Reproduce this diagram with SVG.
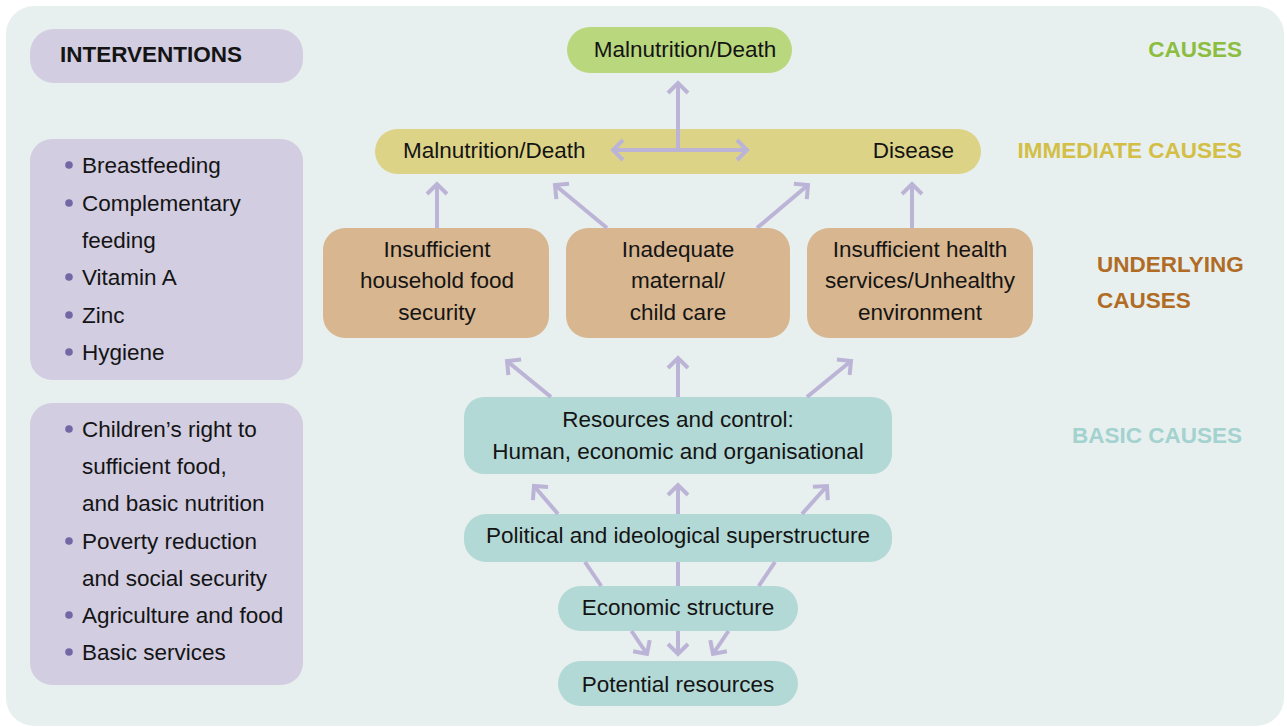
<svg xmlns="http://www.w3.org/2000/svg" width="1287" height="727" viewBox="0 0 1287 727">
<style>
.t{font-family:"Liberation Sans",Arial,sans-serif;font-size:22.5px;fill:#141414}
.c{text-anchor:middle}
.b{font-family:"Liberation Sans",Arial,sans-serif;font-size:22.5px;font-weight:bold}
.lav{fill:#d2cde1}
.grn{fill:#b9d77d}
.yel{fill:#ddd386}
.tan{fill:#d8b68f}
.tea{fill:#b3d9d6}
.dot{fill:#7566a6}
.ar{fill:none;stroke:#bcb4d6;stroke-width:4;marker-end:url(#ah)}
.ln{fill:none;stroke:#bcb4d6;stroke-width:4}
</style>
<defs>
<marker id="ah" markerUnits="userSpaceOnUse" viewBox="-14 -14 18 28" markerWidth="18" markerHeight="28" refX="0" refY="0" orient="auto">
<path d="M-10,-10 L0,0 L-10,10" fill="none" stroke="#bcb4d6" stroke-width="4"/>
</marker>
</defs>
<rect x="6" y="6" width="1278" height="720" rx="28" fill="#e7f0ef"/>

<g id="interventions-title">
<rect class="lav" x="30" y="29" width="273" height="54" rx="24"/>
<text class="b" x="60" y="62" fill="#141414">INTERVENTIONS</text>
</g>

<g id="interventions-immediate">
<rect class="lav" x="30" y="139" width="273" height="241" rx="22"/>
<circle class="dot" cx="69" cy="165" r="3.8"/><text class="t" x="82" y="173">Breastfeeding</text>
<circle class="dot" cx="69" cy="203" r="3.8"/><text class="t" x="82" y="211">Complementary</text>
<text class="t" x="82" y="248">feeding</text>
<circle class="dot" cx="69" cy="277" r="3.8"/><text class="t" x="82" y="285">Vitamin A</text>
<circle class="dot" cx="69" cy="315" r="3.8"/><text class="t" x="82" y="323">Zinc</text>
<circle class="dot" cx="69" cy="352" r="3.8"/><text class="t" x="82" y="360">Hygiene</text>
</g>

<g id="interventions-basic">
<rect class="lav" x="30" y="403" width="273" height="282" rx="22"/>
<circle class="dot" cx="69" cy="429" r="3.8"/><text class="t" x="82" y="437">Children’s right to</text>
<text class="t" x="82" y="474">sufficient food,</text>
<text class="t" x="82" y="511">and basic nutrition</text>
<circle class="dot" cx="69" cy="541" r="3.8"/><text class="t" x="82" y="549">Poverty reduction</text>
<text class="t" x="82" y="586">and social security</text>
<circle class="dot" cx="69" cy="615" r="3.8"/><text class="t" x="82" y="623">Agriculture and food</text>
<circle class="dot" cx="69" cy="652" r="3.8"/><text class="t" x="82" y="660">Basic services</text>
</g>

<g id="outcome">
<rect class="grn" x="567" y="27" width="225" height="46" rx="23"/>
<text class="t c" x="685" y="57">Malnutrition/Death</text>
</g>

<g id="immediate">
<rect class="yel" x="375" y="129" width="606" height="45" rx="22.5"/>
<text class="t" x="403" y="158">Malnutrition/Death</text>
<text class="t" x="954" y="158" text-anchor="end">Disease</text>
</g>

<g id="food-security">
<rect class="tan" x="323" y="228" width="226" height="110" rx="22"/>
<text class="t c" x="437" y="257">Insufficient</text>
<text class="t c" x="437" y="288">household food</text>
<text class="t c" x="437" y="320">security</text>
</g>

<g id="care">
<rect class="tan" x="566" y="228" width="224" height="110" rx="22"/>
<text class="t c" x="678" y="257">Inadequate</text>
<text class="t c" x="678" y="288">maternal/</text>
<text class="t c" x="678" y="320">child care</text>
</g>

<g id="health">
<rect class="tan" x="807" y="228" width="226" height="110" rx="22"/>
<text class="t c" x="920" y="257">Insufficient health</text>
<text class="t c" x="920" y="288">services/Unhealthy</text>
<text class="t c" x="920" y="320">environment</text>
</g>

<g id="resources">
<rect class="tea" x="464" y="397" width="428" height="77" rx="20"/>
<text class="t c" x="678" y="427">Resources and control:</text>
<text class="t c" x="678" y="459">Human, economic and organisational</text>
</g>

<g id="political">
<rect class="tea" x="464" y="514" width="428" height="48" rx="22"/>
<text class="t c" x="678" y="543">Political and ideological superstructure</text>
</g>

<g id="economic">
<rect class="tea" x="558" y="586" width="240" height="45" rx="22.5"/>
<text class="t c" x="678" y="615">Economic structure</text>
</g>

<g id="potential">
<rect class="tea" x="558" y="661" width="240" height="45" rx="22.5"/>
<text class="t c" x="678" y="692">Potential resources</text>
</g>

<g id="level-labels">
<text class="b" x="1242" y="57" text-anchor="end" fill="#8cbd3f">CAUSES</text>
<text class="b" x="1242" y="158" text-anchor="end" fill="#d3bf45">IMMEDIATE CAUSES</text>
<text class="b" x="1097" y="272" fill="#b06c25">UNDERLYING</text>
<text class="b" x="1097" y="308" fill="#b06c25">CAUSES</text>
<text class="b" x="1242" y="443" text-anchor="end" fill="#a3d2cf">BASIC CAUSES</text>
</g>

<g id="connectors">
<line class="ar" x1="678" y1="152" x2="678" y2="83"/>
<line class="ar" x1="680" y1="150" x2="613" y2="150"/>
<line class="ar" x1="676" y1="150" x2="747" y2="150"/>
<line class="ar" x1="437" y1="228" x2="437" y2="184"/>
<line class="ar" x1="607" y1="228" x2="555" y2="185"/>
<line class="ar" x1="757" y1="228" x2="808" y2="185"/>
<line class="ar" x1="912" y1="228" x2="912" y2="184"/>
<line class="ar" x1="551" y1="397" x2="507" y2="361"/>
<line class="ar" x1="678" y1="397" x2="678" y2="358"/>
<line class="ar" x1="807" y1="397" x2="851" y2="361"/>
<line class="ar" x1="558" y1="514" x2="534" y2="486"/>
<line class="ar" x1="678" y1="514" x2="678" y2="485"/>
<line class="ar" x1="802" y1="514" x2="827" y2="486"/>
<line class="ln" x1="585" y1="562" x2="601.2" y2="586"/>
<line class="ln" x1="678" y1="562" x2="678" y2="586"/>
<line class="ln" x1="775" y1="562" x2="758.8" y2="586"/>
<line class="ar" x1="631.5" y1="631" x2="647" y2="654"/>
<line class="ar" x1="678" y1="631" x2="678" y2="654"/>
<line class="ar" x1="728.5" y1="631" x2="713" y2="654"/>
</g>
</svg>
